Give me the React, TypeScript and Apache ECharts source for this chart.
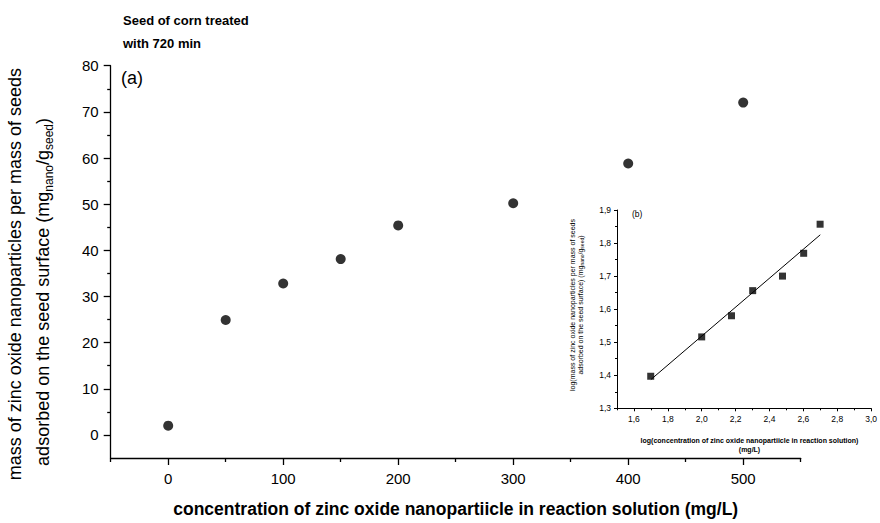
import React, { useEffect, useRef } from 'react';
import * as echarts from 'echarts';

// main chart data
const concentration = [0, 50, 100, 150, 200, 300, 400, 500];
const massAdsorbed = [2.0, 24.9, 32.8, 38.1, 45.4, 50.2, 58.8, 72.0];
const xTickLabels = [0, 100, 200, 300, 400, 500];
const xMinorTicks = [-50, 50, 150, 250, 350, 450, 550];
const yTickLabels = [0, 10, 20, 30, 40, 50, 60, 70, 80];
const yMinorTicks = [5, 15, 25, 35, 45, 55, 65, 75];

// inset data
const logConcentration = [1.699, 2.0, 2.176, 2.301, 2.477, 2.602, 2.699];
const logMass = [1.397, 1.516, 1.58, 1.656, 1.7, 1.769, 1.857];
const fitX = [1.7, 2.7];
const fitY = [1.387, 1.825];
const insetXTicks = [1.6, 1.8, 2.0, 2.2, 2.4, 2.6, 2.8, 3.0];
const insetXMinor = [1.5, 1.7, 1.9, 2.1, 2.3, 2.5, 2.7, 2.9];
const insetYTicks = [1.3, 1.4, 1.5, 1.6, 1.7, 1.8, 1.9];
const insetYMinor = [1.35, 1.45, 1.55, 1.65, 1.75, 1.85];

const FONT = "'Liberation Sans', Arial, sans-serif";
const BLACK = '#000';

function majorAxis(opts: any) {
  const { grid, min, max, ticks, tickLen, labelSize, margin, lineWidth, fmt, position } = opts;
  return {
    type: 'value',
    gridIndex: grid,
    position,
    min,
    max,
    axisLine: { show: true, onZero: false, lineStyle: { color: BLACK, width: lineWidth } },
    axisTick: { show: true, customValues: ticks, length: tickLen, inside: false, lineStyle: { color: BLACK, width: lineWidth } },
    axisLabel: {
      show: true,
      customValues: ticks,
      color: BLACK,
      fontSize: labelSize,
      fontFamily: FONT,
      margin,
      formatter: fmt,
    },
    splitLine: { show: false },
  };
}

function minorAxis(opts: any) {
  const { grid, min, max, ticks, tickLen, lineWidth, position } = opts;
  return {
    type: 'value',
    gridIndex: grid,
    position,
    min,
    max,
    axisLine: { show: false, onZero: false },
    axisTick: { show: true, customValues: ticks, length: tickLen, inside: false, lineStyle: { color: BLACK, width: lineWidth } },
    axisLabel: { show: false },
    splitLine: { show: false },
  };
}

const commaFmt = (v: number) => v.toFixed(1).replace('.', ',');

export default function App() {
  const ref = useRef<HTMLDivElement>(null);

  useEffect(() => {
    if (!ref.current) return;
    const chart = echarts.init(ref.current, undefined, { renderer: 'svg' });

    const option: any = {
      animation: false,
      backgroundColor: '#fff',
      textStyle: { fontFamily: FONT },
      grid: [
        { left: 110.7, top: 65.7, width: 690, height: 401 },
        { left: 617, top: 210, width: 264, height: 198.3 },
      ],
      xAxis: [
        {
          ...majorAxis({ grid: 0, min: -50, max: 550, ticks: xTickLabels, tickLen: 7, labelSize: 15, margin: 13, lineWidth: 1.3, position: 'bottom', fmt: (v: number) => String(v) }),
          name: 'concentration of zinc oxide nanopartiicle in reaction solution (mg/L)',
          nameLocation: 'middle',
          nameGap: 42,
          nameTextStyle: { fontSize: 17.5, fontWeight: 'bold', color: BLACK, fontFamily: FONT },
        },
        minorAxis({ grid: 0, min: -50, max: 550, ticks: xMinorTicks, tickLen: 4, lineWidth: 1.3, position: 'bottom' }),
        majorAxis({ grid: 1, min: 1.5, max: 3.0, ticks: insetXTicks, tickLen: 3, labelSize: 8.5, margin: 6, lineWidth: 1, position: 'bottom', fmt: commaFmt }),
        minorAxis({ grid: 1, min: 1.5, max: 3.0, ticks: insetXMinor, tickLen: 2, lineWidth: 1, position: 'bottom' }),
      ],
      yAxis: [
        majorAxis({ grid: 0, min: -5, max: 80, ticks: yTickLabels, tickLen: 7, labelSize: 15, margin: 12, lineWidth: 1.3, position: 'left', fmt: (v: number) => String(v) }),
        minorAxis({ grid: 0, min: -5, max: 80, ticks: yMinorTicks, tickLen: 3.5, lineWidth: 1.3, position: 'left' }),
        majorAxis({ grid: 1, min: 1.3, max: 1.9, ticks: insetYTicks, tickLen: 3, labelSize: 8.5, margin: 6, lineWidth: 1, position: 'left', fmt: commaFmt }),
        minorAxis({ grid: 1, min: 1.3, max: 1.9, ticks: insetYMinor, tickLen: 2, lineWidth: 1, position: 'left' }),
      ],
      series: [
        {
          type: 'scatter',
          xAxisIndex: 0,
          yAxisIndex: 0,
          symbol: 'circle',
          symbolSize: 10,
          itemStyle: { color: BLACK },
          data: concentration.map((x, i) => [x, massAdsorbed[i]]),
        },
        {
          type: 'line',
          xAxisIndex: 2,
          yAxisIndex: 2,
          showSymbol: false,
          symbol: 'none',
          lineStyle: { color: BLACK, width: 1 },
          data: fitX.map((x, i) => [x, fitY[i]]),
        },
        {
          type: 'scatter',
          xAxisIndex: 2,
          yAxisIndex: 2,
          symbol: 'rect',
          symbolSize: 7,
          itemStyle: { color: BLACK },
          data: logConcentration.map((x, i) => [x, logMass[i]]),
        },
      ],
      graphic: [
        { type: 'text', x: 123, y: 20, style: { text: 'Seed of corn treated', fontSize: 13, fontWeight: 'bold', fontFamily: FONT, fill: BLACK, align: 'left', verticalAlign: 'middle' } },
        { type: 'text', x: 123, y: 43, style: { text: 'with 720 min', fontSize: 13, fontWeight: 'bold', fontFamily: FONT, fill: BLACK, align: 'left', verticalAlign: 'middle' } },
        { type: 'text', x: 121, y: 78, style: { text: '(a)', fontSize: 18, fontFamily: FONT, fill: BLACK, align: 'left', verticalAlign: 'middle' } },
        { type: 'text', x: 632, y: 214, style: { text: '(b)', fontSize: 8.5, fontFamily: FONT, fill: BLACK, align: 'left', verticalAlign: 'middle' } },
        {
          type: 'text', x: 15, y: 68, rotation: Math.PI / 2,
          style: { text: 'mass of zinc oxide nanoparticles per mass of seeds', fontSize: 18, fontFamily: FONT, fill: BLACK, align: 'right', verticalAlign: 'middle' },
        },
        {
          type: 'text', x: 43, y: 118, rotation: Math.PI / 2,
          style: {
            text: 'adsorbed on the seed surface (mg{s|nano}/g{s|seed})',
            fontSize: 18, fontFamily: FONT, fill: BLACK, align: 'right', verticalAlign: 'middle', lineHeight: 24,
            rich: { s: { fontSize: 12, fontFamily: FONT, fill: BLACK, lineHeight: 12, verticalAlign: 'bottom' } },
          },
        },
        {
          type: 'text', x: 572, y: 305, rotation: Math.PI / 2,
          style: { text: 'log(mass of zinc oxide nanoparticles per mass of seeds', fontSize: 7, fontFamily: FONT, fill: BLACK, align: 'center', verticalAlign: 'middle' },
        },
        {
          type: 'text', x: 580, y: 305, rotation: Math.PI / 2,
          style: {
            text: 'adsorbed on the seed surface) (mg{s|nano}/g{s|seed})',
            fontSize: 7, fontFamily: FONT, fill: BLACK, align: 'center', verticalAlign: 'middle', lineHeight: 9,
            rich: { s: { fontSize: 5, fontFamily: FONT, fill: BLACK, lineHeight: 5, verticalAlign: 'bottom' } },
          },
        },
        { type: 'text', x: 749.5, y: 440.7, style: { text: 'log(concentration of zinc oxide nanopartiicle in reaction solution)', fontSize: 7, fontWeight: 'bold', fontFamily: FONT, fill: BLACK, align: 'center', verticalAlign: 'middle' } },
        { type: 'text', x: 749.5, y: 449.5, style: { text: '(mg/L)', fontSize: 7, fontWeight: 'bold', fontFamily: FONT, fill: BLACK, align: 'center', verticalAlign: 'middle' } },
      ],
    };

    chart.setOption(option);
    return () => chart.dispose();
  }, []);

  return (
    <div
      ref={ref}
      style={{ position: 'absolute', left: 0, top: 0, width: 880, height: 523, background: '#fff' }}
    />
  );
}
